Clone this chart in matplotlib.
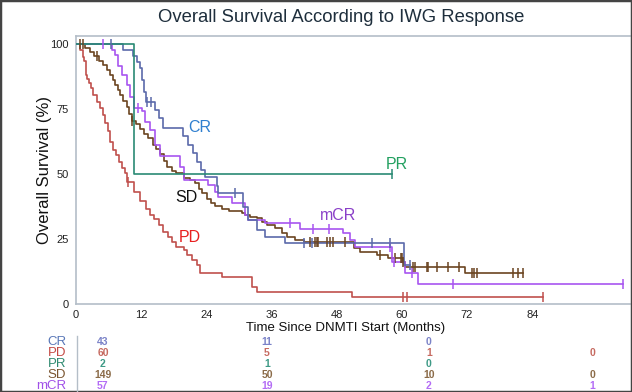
import numpy as np
import matplotlib
matplotlib.use("Agg")
import matplotlib.pyplot as plt
from matplotlib.patches import Rectangle

plt.rcParams['font.family'] = ['Liberation Sans', 'DejaVu Sans']

# ---------------- data ----------------
CR_t = [0, 8.7, 10.5, 11.2, 11.8, 12.1, 12.5, 12.8, 14.5, 15.2, 16.1, 19.7, 20.6, 21.6, 22.2, 23.0, 23.8,
        25.9, 26.1, 30.8, 31.7, 33.3, 34.8, 38.5, 60.3, 61.5]
CR_s = [100, 97.7, 95.3, 93.0, 90.7, 86.0, 81.4, 77.8, 74.6, 71.4, 67.8, 64.4, 61.2, 58.0, 54.7, 51.5, 49.0,
        45.5, 42.8, 37.4, 32.3, 28.5, 25.9, 23.3, 15.0, 15.0]
CR_c = [6.4, 13.0, 13.8, 29.3, 41.9, 43.4, 54.5, 57.9, 61.5]

PD_t = [0, 0.8, 1.2, 1.5, 1.8, 2.1, 2.4, 2.8, 3.2, 3.8, 4.4, 4.9, 5.3, 5.8, 6.3, 6.9, 7.4, 7.9, 8.5, 9.0,
        9.4, 10.6, 11.8, 12.8, 13.6, 14.3, 15.2, 16.1, 17.0, 17.6, 18.5, 19.8, 20.4, 21.3, 22.2, 22.8,
        26.8, 32.4, 33.3, 50.8, 86.0]
PD_s = [100, 97.7, 95.0, 93.2, 88.0, 86.5, 84.9, 82.9, 80.4, 77.8, 75.3, 72.7, 69.5, 66.3, 62.4, 59.2, 57.3,
        54.7, 52.2, 50.3, 47.0, 43.2, 39.6, 36.5, 34.1, 32.5, 30.4, 27.8, 25.9, 24.0, 22.0, 20.8, 18.8,
        16.9, 15.0, 12.1, 10.3, 6.7, 4.7, 2.8, 2.8]
PD_c = [9.6, 60.2, 60.9, 86.0]

PR_t = [0, 10.7, 58.1]
PR_s = [100, 50, 50]
PR_c = [58.1]

SD_t = [0, 1.7, 2.5, 3.3, 4.2, 5.0, 5.7, 6.3, 6.8, 7.2, 7.7, 8.1, 8.7, 9.3, 9.8, 10.3, 11.0, 11.8, 12.5,
        13.3, 14.2, 14.8, 15.5, 16.2, 16.8, 17.6, 18.5, 19.8, 21.0, 22.0, 22.6, 23.2, 24.1, 24.8, 25.6,
        26.8, 28.1, 30.5, 31.1, 32.0, 33.3, 34.2, 35.1, 36.7, 37.9, 38.8, 40.3, 42.0, 51.2, 52.2, 55.4,
        57.5, 60.2, 60.6, 71.6, 82.3]
SD_s = [100, 98.3, 97.0, 95.5, 93.5, 91.9, 90.0, 88.0, 86.0, 84.2, 82.3, 80.4, 78.0, 75.9, 73.0, 70.5,
        69.0, 67.2, 65.5, 63.8, 61.2, 59.5, 57.8, 55.0, 52.5, 51.3, 50.3, 48.6, 47.7, 46.4, 44.3, 42.8,
        40.5, 38.9, 37.6, 36.4, 35.6, 35.1, 34.3, 33.6, 32.9, 31.7, 30.4, 29.1, 27.2, 25.9, 24.6, 24.0,
        21.4, 20.1, 18.8, 17.6, 16.0, 14.3, 12.0, 12.0]
SD_c = [0.7, 1.2, 3.8, 10.3, 43.0, 44.0, 44.3, 44.6, 46.2, 46.8, 47.4, 49.5, 56.0, 58.7, 59.8, 60.0,
        60.2, 62.0, 62.4, 64.6, 64.8, 66.5, 68.5, 70.5, 72.9, 73.3, 73.9, 80.5, 81.3, 82.3]

mCR_t = [0, 6.6, 7.2, 7.8, 8.4, 9.3, 9.9, 10.6, 12.1, 12.7, 13.6, 14.5, 15.5, 19.1, 19.8, 24.3, 25.6,
         26.2, 28.7, 31.1, 31.7, 34.8, 41.3, 49.2, 50.5, 51.4, 58.2, 60.6, 63.0, 100.7]
mCR_s = [100, 97.7, 95.8, 91.3, 88.0, 84.2, 79.7, 75.3, 74.0, 70.1, 66.9, 61.2, 56.7, 52.8, 47.8, 45.8,
         43.2, 41.3, 38.7, 34.2, 32.3, 31.0, 28.8, 27.2, 24.6, 21.8, 16.0, 12.0, 7.6, 7.6]
mCR_c = [5.0, 11.5, 39.4, 43.7, 46.5, 57.8, 58.6, 61.8, 69.4, 100.7]

groups = ['CR', 'PD', 'PR', 'SD', 'mCR']
risk_CR = [43, 11, 0, None]
risk_PD = [60, 5, 1, 0]
risk_PR = [2, 1, 0, None]
risk_SD = [149, 50, 10, 0]
risk_mCR = [57, 19, 2, 1]

x_ticks = [0, 12, 24, 36, 48, 60, 72, 84]
y_ticks = [0, 25, 50, 75, 100]

# ---------------- style ----------------
line_col = {'CR': '#5b6aaa', 'PD': '#c0504d', 'PR': '#2a8a74', 'SD': '#6b4420', 'mCR': '#a855f0'}
lab_col = {'CR': '#2f7fcf', 'PD': '#e82020', 'PR': '#22a060', 'SD': '#111111', 'mCR': '#8a3fc8'}
risk_lab_col = {'CR': '#5a78b8', 'PD': '#c44a44', 'PR': '#2e8a70', 'SD': '#7a5530', 'mCR': '#a050e8'}
risk_num_col = {'CR': '#7b83c8', 'PD': '#c66a60', 'PR': '#3e9a86', 'SD': '#8b6b48', 'mCR': '#b36cf5'}

W, H = 632, 392
fig = plt.figure(figsize=(W / 100, H / 100), dpi=100)
fig.patch.set_facecolor('white')

ax = fig.add_axes([76 / W, 1 - 304 / H, (630 - 76) / W, (304 - 36) / H])
ax.set_xlim(0, 102)
ax.set_ylim(0, 103)

series = {
    'CR': (CR_t, CR_s, CR_c),
    'PD': (PD_t, PD_s, PD_c),
    'PR': (PR_t, PR_s, PR_c),
    'SD': (SD_t, SD_s, SD_c),
    'mCR': (mCR_t, mCR_s, mCR_c),
}
order = ['PD', 'SD', 'mCR', 'CR', 'PR']
for g in order:
    t, s, c = series[g]
    ax.step(t, s, where='post', color=line_col[g], lw=1.2, zorder=3)
    t_arr = np.asarray(t)
    s_arr = np.asarray(s)
    idx = np.searchsorted(t_arr, np.asarray(c), side='right') - 1
    ax.plot(c, s_arr[idx], ls='none', marker='|', ms=7, mew=1.1, color=line_col[g], zorder=4)

# curve labels
ax.text(22.8, 67.7, 'CR', color=lab_col['CR'], fontsize=11.5, ha='center', va='center')
ax.text(59.1, 53.5, 'PR', color=lab_col['PR'], fontsize=11.5, ha='center', va='center')
ax.text(20.4, 40.8, 'SD', color=lab_col['SD'], fontsize=11.5, ha='center', va='center')
ax.text(48.3, 34.2, 'mCR', color=lab_col['mCR'], fontsize=11.5, ha='center', va='center')
ax.text(21.0, 25.4, 'PD', color=lab_col['PD'], fontsize=11.5, ha='center', va='center')

ax.set_xticks(x_ticks)
ax.set_yticks(y_ticks)
ax.set_xticklabels([str(v) for v in x_ticks])
ax.set_yticklabels([str(v) for v in y_ticks])
ax.tick_params(length=0, labelsize=8, colors='#222222')
ax.tick_params(axis='x', pad=4)
ax.tick_params(axis='y', pad=5)
for side in ['left', 'bottom', 'top']:
    ax.spines[side].set_color('#b4bec8')
    ax.spines[side].set_linewidth(1.2)
ax.spines['right'].set_visible(False)

fig.text(341 / W, 1 - 18 / H, 'Overall Survival According to IWG Response', ha='center', va='center',
         fontsize=13.3, color='#1e2e3c')
fig.text(45 / W, 1 - 170 / H, 'Overall Survival (%)', ha='center', va='center', rotation=90,
         fontsize=12, color='#111111')
fig.text(346 / W, 1 - 328 / H, 'Time Since DNMTI Start (Months)', ha='center', va='center',
         fontsize=9.5, color='#111111')

# risk table
risk = {'CR': risk_CR, 'PD': risk_PD, 'PR': risk_PR, 'SD': risk_SD, 'mCR': risk_mCR}
col_px = [103, 267, 429, 592]
row_px = [342, 353, 364, 375, 386]
for g, yp in zip(groups, row_px):
    fig.text(66 / W, 1 - yp / H, g, ha='right', va='center', fontsize=9.5, color=risk_lab_col[g])
    for v, xp in zip(risk[g], col_px):
        if v is not None:
            fig.text(xp / W, 1 - yp / H, str(v), ha='center', va='center', fontsize=7.5,
                     color=risk_num_col[g], fontweight='bold')
fig.add_artist(plt.Line2D([77 / W, 77 / W], [1 - 336 / H, 1 - 391 / H], color='#b4bec8', lw=1))

# outer border
fig.add_artist(Rectangle((0, 0), 1, 1, transform=fig.transFigure, fill=False,
                         edgecolor='#444444', lw=2.5))

fig.savefig('out.png', dpi=100)
